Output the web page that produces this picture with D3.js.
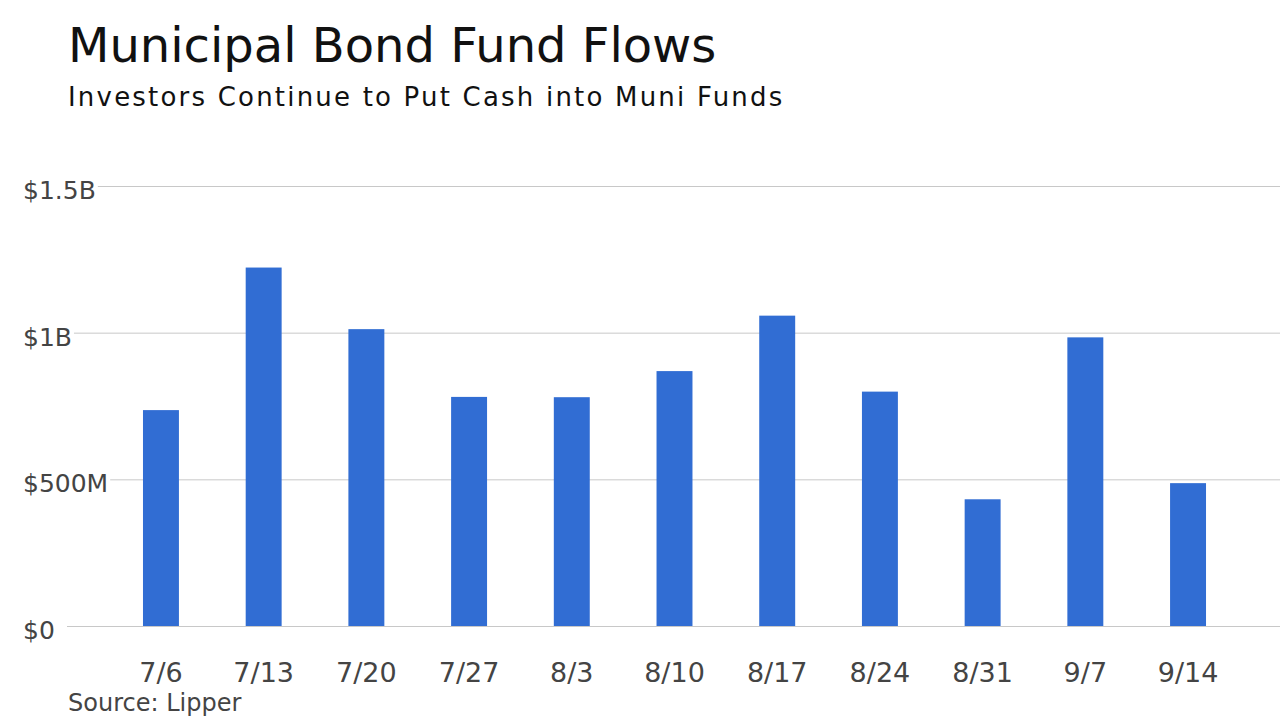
<!DOCTYPE html>
<html>
<head>
<meta charset="utf-8">
<script src="https://cdn.jsdelivr.net/npm/d3@7"></script>
<style>
  html, body { margin: 0; padding: 0; background: #fff; }
  svg { display: block; font-family: "DejaVu Sans", Verdana, sans-serif; }
</style>
</head>
<body>
<svg id="chart" width="1280" height="720"></svg>
<script>
const categories = ["7/6", "7/13", "7/20", "7/27", "8/3", "8/10", "8/17", "8/24", "8/31", "9/7", "9/14"];
const flows = [736, 1222, 1012, 781, 780, 869, 1058, 799, 432, 984, 487]; // $ millions
const yTicks = [0, 500, 1000, 1500];
const yTickLabels = ["$0", "$500M", "$1B", "$1.5B"];

const svg = d3.select("#chart");
const W = 1280, H = 720;

const x = d3.scaleBand().domain(categories).range([109.6, 1239.4]).paddingInner(0.65).paddingOuter(0.325);
const y = d3.scaleLinear().domain([0, 1500]).range([626, 186]);

// Title
svg.append("text").attr("x", 68).attr("y", 62)
  .attr("font-size", 48).attr("fill", "#111")
  .text("Municipal Bond Fund Flows");
svg.append("text").attr("x", 68).attr("y", 106)
  .attr("font-size", 26).attr("letter-spacing", 2.2).attr("fill", "#111")
  .text("Investors Continue to Put Cash into Muni Funds");

// Grid lines
const grid = svg.append("g");
grid.selectAll("line").data(yTicks).join("line")
  .attr("x1", 67).attr("x2", W)
  .attr("y1", d => y(d) + 0.5).attr("y2", d => y(d) + 0.5)
  .attr("stroke", "#c8c8c8").attr("stroke-width", 1);

// Bars
svg.append("g").selectAll("rect").data(categories).join("rect")
  .attr("x", d => x(d))
  .attr("width", x.bandwidth())
  .attr("y", (d, i) => y(flows[i]))
  .attr("height", (d, i) => y(0) - y(flows[i]))
  .attr("fill", "#316dd3");

// Y labels with white background
const yl = svg.append("g");
yTicks.forEach((t, i) => {
  const g = yl.append("g");
  const txt = g.append("text").attr("x", 23).attr("y", y(t) + 13)
    .attr("font-size", 25).attr("fill", "#444").text(yTickLabels[i]);
  const bb = txt.node().getBBox();
  g.insert("rect", "text").attr("x", bb.x - 2).attr("y", y(t) - 2)
    .attr("width", bb.width + 4).attr("height", 4).attr("fill", "#fff");
});

// X axis labels
const xAxis = d3.axisBottom(x).tickSize(0).tickPadding(0);
const xg = svg.append("g").attr("transform", "translate(0,682)").call(xAxis);
xg.select(".domain").remove();
xg.selectAll("text").attr("font-size", 27).attr("fill", "#444")
  .attr("font-family", "DejaVu Sans, Verdana, sans-serif")
  .attr("dy", 0).attr("y", 0);

// Source
svg.append("text").attr("x", 68).attr("y", 711)
  .attr("font-size", 24).attr("fill", "#444")
  .text("Source: Lipper");
</script>
</body>
</html>
